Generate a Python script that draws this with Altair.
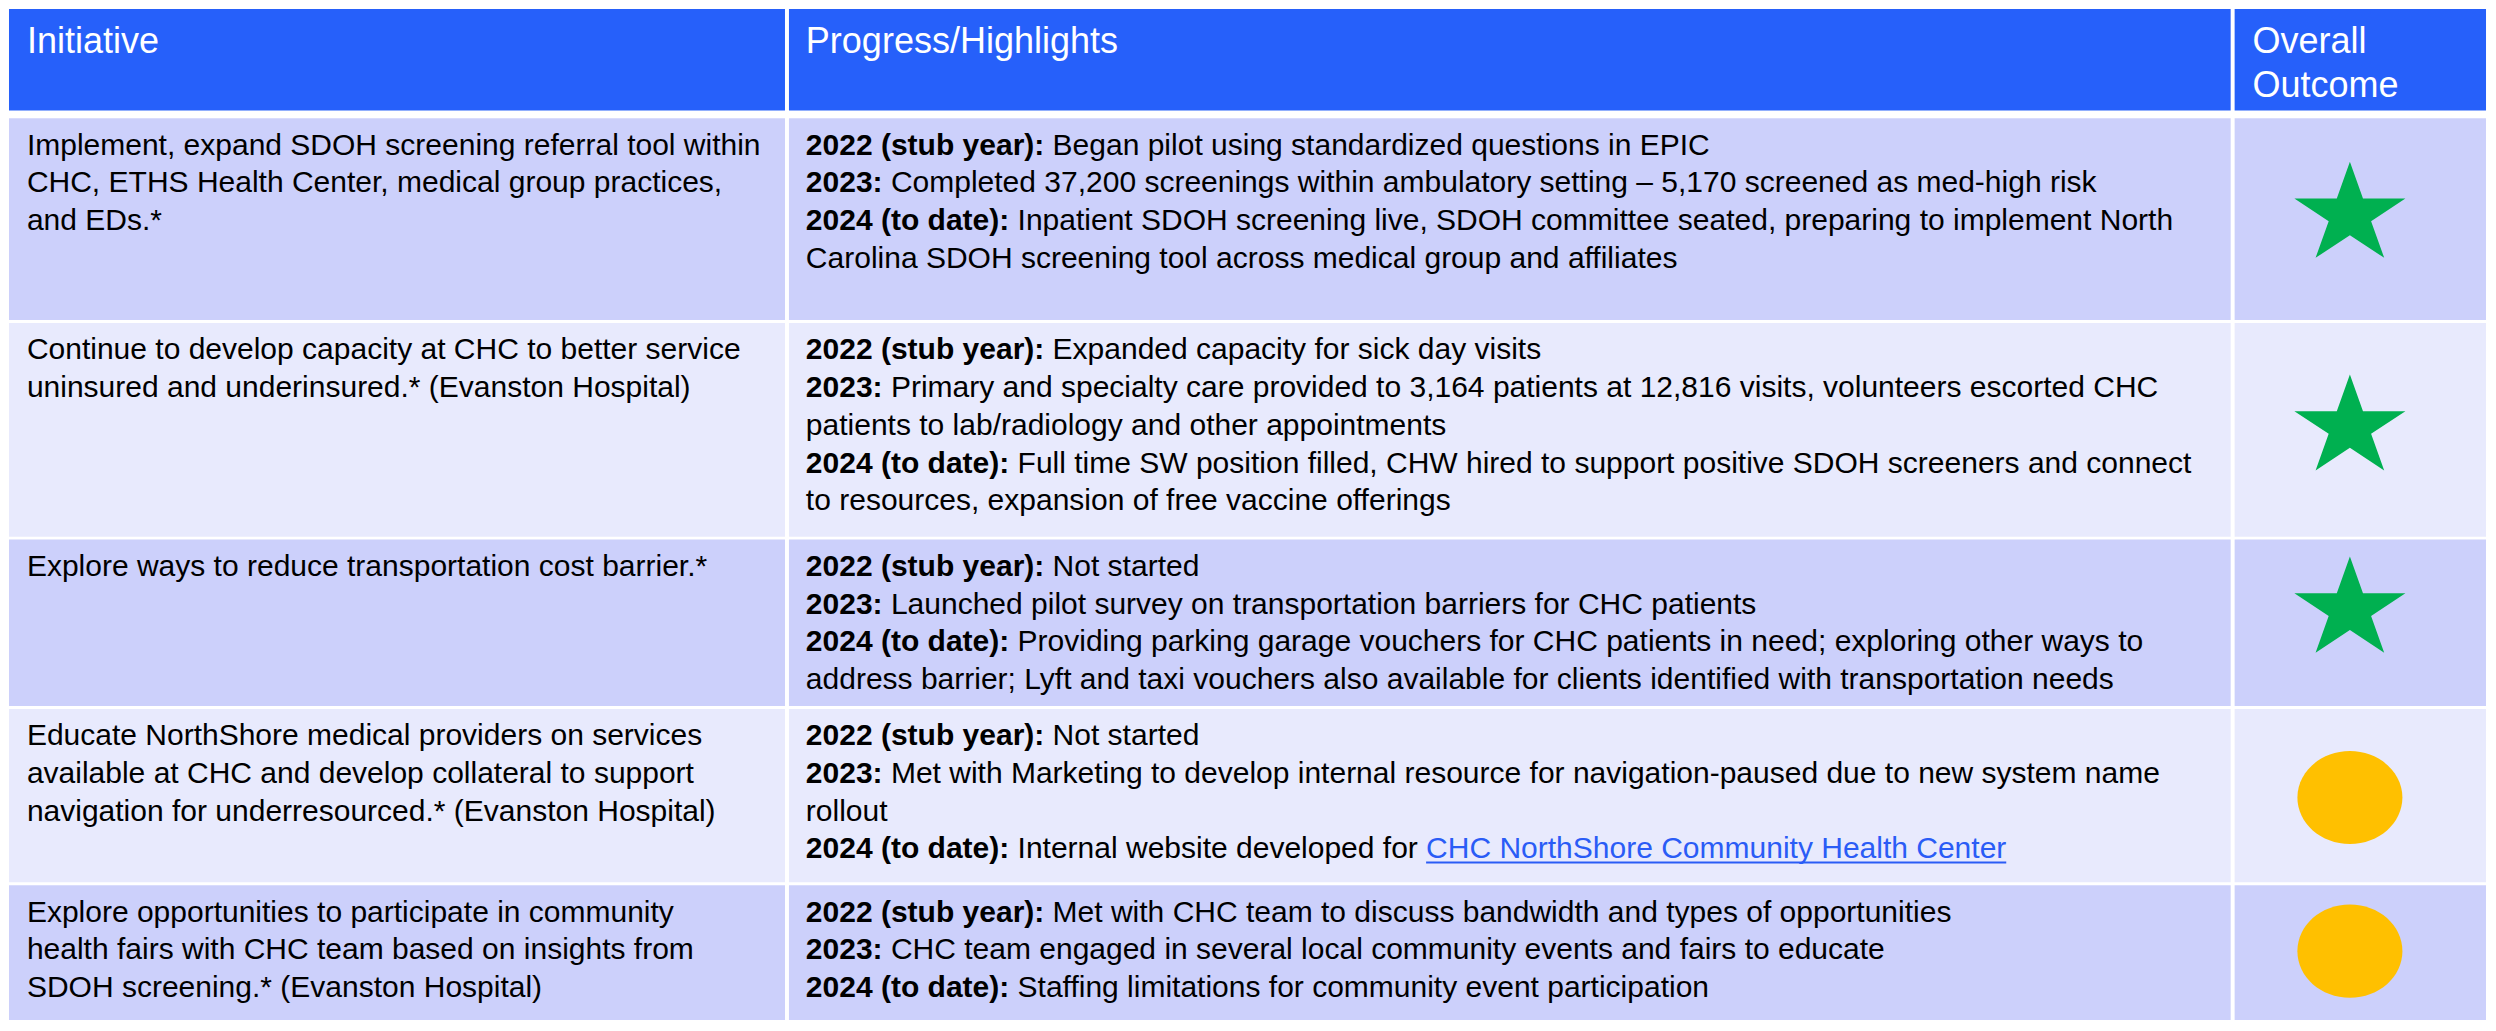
import math
import altair as alt
import pandas as pd

# ---------------- data ----------------
header_lines = [
    ("Initiative", 0, 0),
    ("Progress/Highlights", 1, 0),
    ("Overall", 2, 0),
    ("Outcome", 2, 1),
]

initiatives = [
    ["Implement, expand SDOH screening referral tool within",
     "CHC, ETHS Health Center, medical group practices,",
     "and EDs.*"],
    ["Continue to develop capacity at CHC to better service",
     "uninsured and underinsured.* (Evanston Hospital)"],
    ["Explore ways to reduce transportation cost barrier.*"],
    ["Educate NorthShore medical providers on services",
     "available at CHC and develop collateral to support",
     "navigation for underresourced.* (Evanston Hospital)"],
    ["Explore opportunities to participate in community",
     "health fairs with CHC team based on insights from",
     "SDOH screening.* (Evanston Hospital)"],
]

progress = [
    [("2022 (stub year):", "Began pilot using standardized questions in EPIC"),
     ("2023:", "Completed 37,200 screenings within ambulatory setting \u2013 5,170 screened as med-high risk"),
     ("2024 (to date):", "Inpatient SDOH screening live, SDOH committee seated, preparing to implement North"),
     ("", "Carolina SDOH screening tool across medical group and affiliates")],
    [("2022 (stub year):", "Expanded capacity for sick day visits"),
     ("2023:", "Primary and specialty care provided to 3,164 patients at 12,816 visits, volunteers escorted CHC"),
     ("", "patients to lab/radiology and other appointments"),
     ("2024 (to date):", "Full time SW position filled, CHW hired to support positive SDOH screeners and connect"),
     ("", "to resources, expansion of free vaccine offerings")],
    [("2022 (stub year):", "Not started"),
     ("2023:", "Launched pilot survey on transportation barriers for CHC patients"),
     ("2024 (to date):", "Providing parking garage vouchers for CHC patients in need; exploring other ways to"),
     ("", "address barrier; Lyft and taxi vouchers also available for clients identified with transportation needs")],
    [("2022 (stub year):", "Not started"),
     ("2023:", "Met with Marketing to develop internal resource for navigation-paused due to new system name"),
     ("", "rollout"),
     ("2024 (to date):", "Internal website developed for")],
    [("2022 (stub year):", "Met with CHC team to discuss bandwidth and types of opportunities"),
     ("2023:", "CHC team engaged in several local community events and fairs to educate"),
     ("2024 (to date):", "Staffing limitations for community event participation")],
]
link_row, link_line = 3, 3
link_text = "CHC NorthShore Community Health Center"

outcomes = ["star", "star", "star", "circle", "circle"]

# ---------------- layout / style ----------------
REF_W, REF_H = 2496, 1031
W, H = 2480, 1015
SX = W / REF_W
FONT = "Liberation Sans"
BODY_FS = 30
HEAD_FS = 36
LINE_H = 38.3
HEAD_LINE_H = 44

col_edges = [(1, 782), (786, 2237), (2241, 2494)]
header_edge = (1, 104)
row_edges = [(112, 317), (320, 537), (540, 709), (712, 888), (891, 1028)]
text_left = [19, 803, 2259]
symbol_x = 2357
symbol_y = [205, 421, 606, 802, 958]

HEADER_FILL = "#2660FA"
ROW_FILLS = ["#CCD0FB", "#E8EAFD"]
LINK_COLOR = "#2A5CF6"
STAR_COLOR = "#00B050"
CIRCLE_COLOR = "#FFC000"

# Arial / Liberation Sans advance widths (1/1000 em)
_up = "ABCDEFGHIJKLMNOPQRSTUVWXYZ"
_lo = "abcdefghijklmnopqrstuvwxyz"
REG = dict(zip(_up, [667, 667, 722, 722, 667, 611, 778, 722, 278, 500, 667, 556, 833,
                     722, 778, 667, 778, 722, 667, 611, 722, 667, 944, 667, 667, 611]))
REG.update(zip(_lo, [556, 556, 500, 556, 556, 278, 556, 556, 222, 222, 500, 222, 833,
                     556, 556, 556, 556, 333, 500, 278, 556, 500, 722, 500, 500, 500]))
REG.update({" ": 278, ",": 278, ".": 278, ":": 278, ";": 278, "(": 333, ")": 333,
            "-": 333, "/": 278, "*": 389})
BOLD = dict(zip(_lo, [556, 611, 556, 611, 556, 333, 611, 611, 278, 278, 556, 278, 889,
                      611, 611, 611, 611, 389, 556, 333, 611, 556, 778, 556, 556, 500]))
BOLD.update({" ": 278, "(": 333, ")": 333, ":": 333, ",": 278, ".": 278})
for d in "0123456789":
    REG[d] = 556
    BOLD[d] = 556


def width(s, table, fs):
    return sum(table.get(c, 556) for c in s) * fs / 1000.0


# ---------------- tables for the library ----------------
cells = []
for ci, (x0, x1) in enumerate(col_edges):
    cells.append(dict(x0=x0, x1=x1, y0=header_edge[0], y1=header_edge[1], fill=HEADER_FILL))
    for ri, (y0, y1) in enumerate(row_edges):
        cells.append(dict(x0=x0, x1=x1, y0=y0, y1=y1, fill=ROW_FILLS[ri % 2]))
cells_df = pd.DataFrame(cells)

head_df = pd.DataFrame([
    dict(x=text_left[c], y=46 + l * HEAD_LINE_H, text=t) for t, c, l in header_lines
])

init_rows = []
for ri, lines in enumerate(initiatives):
    for li, t in enumerate(lines):
        init_rows.append(dict(x=text_left[0], y=row_edges[ri][0] + 37 + li * LINE_H, text=t))
init_df = pd.DataFrame(init_rows)

bold_rows, reg_rows = [], []
link_info = None
for ri, lines in enumerate(progress):
    for li, (pre, rest) in enumerate(lines):
        y = row_edges[ri][0] + 37 + li * LINE_H
        x = text_left[1]
        if pre:
            bold_rows.append(dict(x=x, y=y, text=pre))
            off = (width(pre, BOLD, BODY_FS) + width(" ", REG, BODY_FS)) / SX
        else:
            off = 0
        reg_rows.append(dict(x=x + off, y=y, text=rest))
        if ri == link_row and li == link_line:
            lx = x + off + width(rest + " ", REG, BODY_FS) / SX
            lw = width(link_text, REG, BODY_FS) / SX
            link_info = dict(x=lx, x2=lx + lw, y=y, yu=y + 4, text=link_text)
bold_df = pd.DataFrame(bold_rows)
reg_df = pd.DataFrame(reg_rows)
link_df = pd.DataFrame([link_info])

# custom symbol paths
pts = []
for k in range(10):
    a = math.radians(-90 + 36 * k)
    r = 1.0 if k % 2 == 0 else 0.382
    px = r * math.cos(a) / 0.951
    py = (r * math.sin(a) + 0.0955) / 0.951 * 0.91
    pts.append(f"{px:.4f},{py:.4f}")
STAR_PATH = "M" + " L".join(pts) + " Z"
ELLIPSE_PATH = "M -1 0 A 1 0.886 0 1 0 1 0 A 1 0.886 0 1 0 -1 0 Z"

sym_df = pd.DataFrame([
    dict(x=symbol_x, y=symbol_y[i],
         path=STAR_PATH if o == "star" else ELLIPSE_PATH,
         color=STAR_COLOR if o == "star" else CIRCLE_COLOR,
         size=111 ** 2 if o == "star" else 105 ** 2)
    for i, o in enumerate(outcomes)
])

# ---------------- chart ----------------
xs = alt.Scale(domain=[0, REF_W], nice=False, zero=False)
ys = alt.Scale(domain=[0, REF_H], nice=False, zero=False, reverse=True)

rects = alt.Chart(cells_df).mark_rect(strokeWidth=0).encode(
    x=alt.X("x0:Q", scale=xs, axis=None), x2="x1:Q",
    y=alt.Y("y0:Q", scale=ys, axis=None), y2="y1:Q",
    color=alt.Color("fill:N", scale=None),
)


def text_layer(df, **kw):
    return alt.Chart(df).mark_text(align="left", baseline="alphabetic", font=FONT, **kw).encode(
        x=alt.X("x:Q", scale=xs, axis=None),
        y=alt.Y("y:Q", scale=ys, axis=None),
        text="text:N",
    )


heads = text_layer(head_df, fontSize=HEAD_FS, color="white")
inits = text_layer(init_df, fontSize=BODY_FS, color="black")
bolds = text_layer(bold_df, fontSize=BODY_FS, color="black", fontWeight="bold")
regs = text_layer(reg_df, fontSize=BODY_FS, color="black")
link = text_layer(link_df, fontSize=BODY_FS, color=LINK_COLOR)
underline = alt.Chart(link_df).mark_rule(color=LINK_COLOR, strokeWidth=2).encode(
    x=alt.X("x:Q", scale=xs, axis=None), x2="x2:Q",
    y=alt.Y("yu:Q", scale=ys, axis=None),
)

symbols = alt.Chart(sym_df).mark_point(filled=True, opacity=1, strokeWidth=0).encode(
    x=alt.X("x:Q", scale=xs, axis=None),
    y=alt.Y("y:Q", scale=ys, axis=None),
    shape=alt.Shape("path:N", scale=None),
    color=alt.Color("color:N", scale=None),
    size=alt.Size("size:Q", scale=None),
)

chart = alt.layer(rects, heads, inits, bolds, regs, link, underline, symbols).properties(
    width=W, height=H, padding=0,
    autosize=alt.AutoSizeParams(type="none"),
).configure_view(stroke=None)

chart.save("out.html", embed_options={"renderer": "svg", "actions": False})
